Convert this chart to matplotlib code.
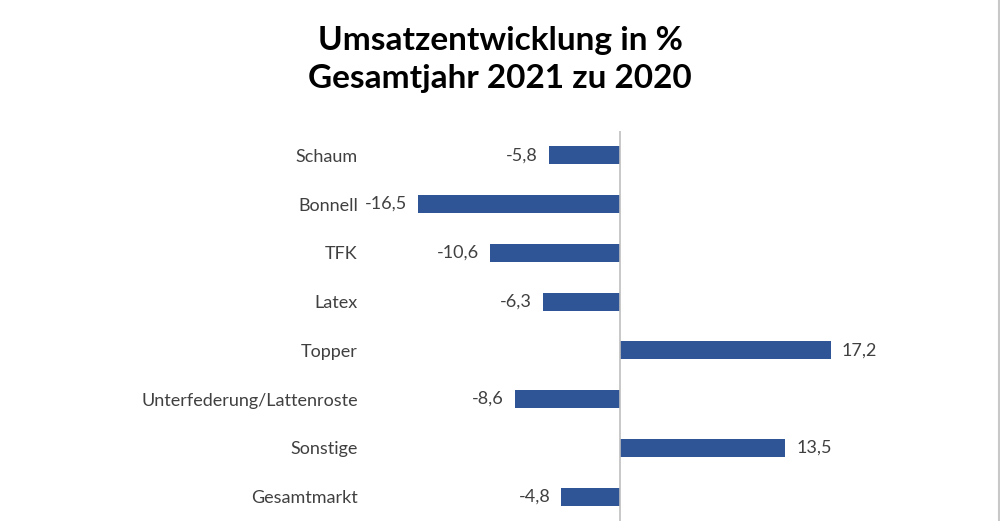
import matplotlib.pyplot as plt
import numpy as np

categories = ["Schaum", "Bonnell", "TFK", "Latex", "Topper",
              "Unterfederung/Lattenroste", "Sonstige", "Gesamtmarkt"]
values = [-5.8, -16.5, -10.6, -6.3, 17.2, -8.6, 13.5, -4.8]

plt.rcParams['font.family'] = ['Lato', 'DejaVu Sans']

fig = plt.figure(figsize=(10, 5.21), dpi=100)
ax = fig.add_axes([0.38, 0.0, 0.61, 0.7486])

y = np.arange(len(categories))
ax.barh(y, values, height=0.37, color='#2F5597', zorder=2)
ax.set_ylim(len(categories) - 0.5, -0.5)
ax.set_xlim(-19.6, 30.2)

ax.axvline(0, color='#bfbfbf', linewidth=1.2, zorder=3)

for yi, v in zip(y, values):
    txt = f"{v:.1f}".replace('.', ',')
    if v < 0:
        ax.annotate(txt, (v, yi), xytext=(-8, 0), textcoords='offset points',
                    ha='right', va='center', fontsize=13, color='#404040')
    else:
        ax.annotate(txt, (v, yi), xytext=(8, 0), textcoords='offset points',
                    ha='left', va='center', fontsize=13, color='#404040')

ax.set_yticks(y)
ax.set_yticklabels(categories, fontsize=13, color='#404040')
ax.tick_params(axis='y', length=0, pad=16)
ax.set_xticks([])
for s in ax.spines.values():
    s.set_visible(False)

fig.text(0.5, 0.885, "Umsatzentwicklung in %\nGesamtjahr 2021 zu 2020",
         ha='center', va='center', fontsize=24, fontweight='bold',
         color='black', linespacing=1.38)

# light frame line on the right edge
fig.add_artist(plt.Line2D([0.999, 0.999], [0, 1], transform=fig.transFigure,
                          color='#c8c8c8', linewidth=1.5))

fig.savefig('out.png', dpi=100, facecolor='white')
